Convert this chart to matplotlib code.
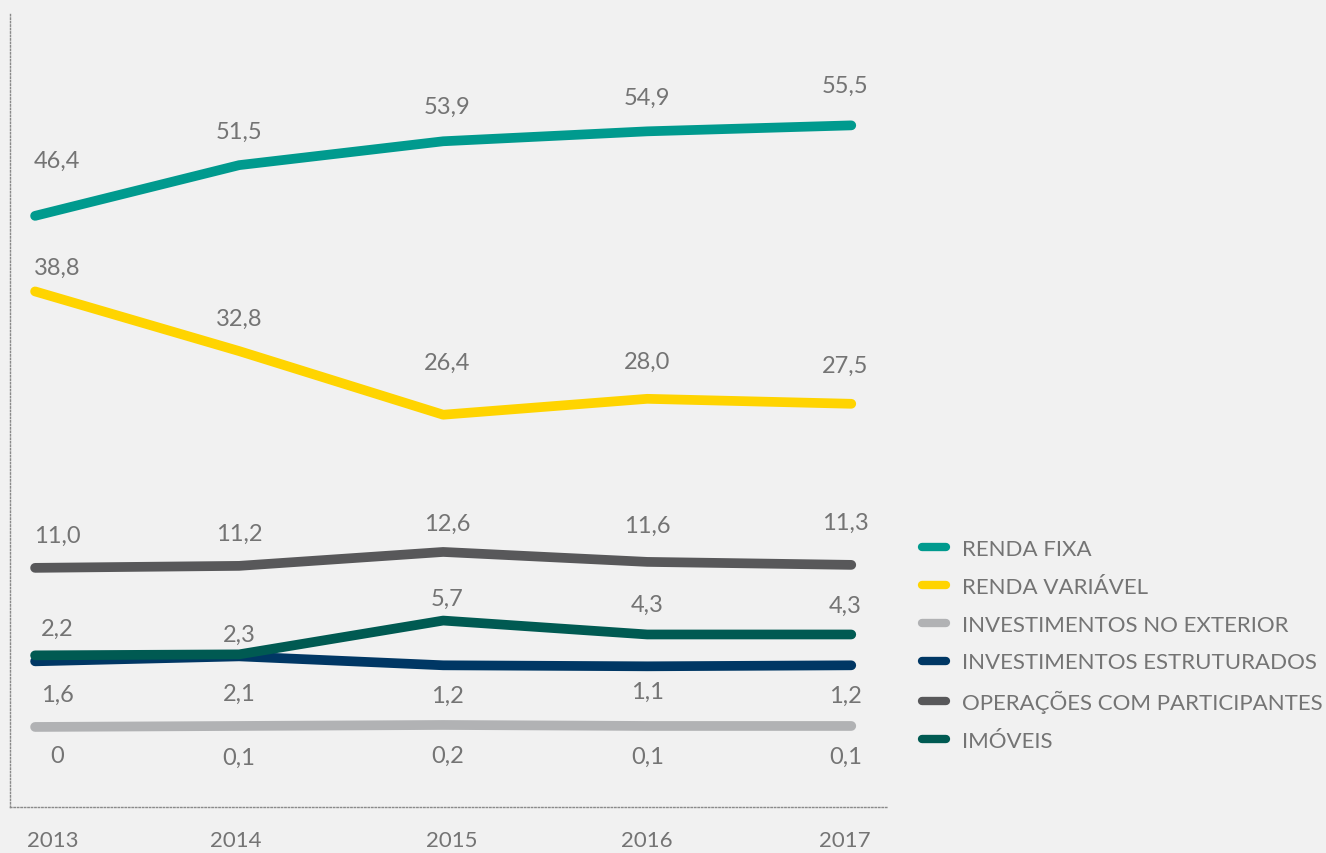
import numpy as np
import matplotlib
matplotlib.use("Agg")
import matplotlib.pyplot as plt
from matplotlib.lines import Line2D

# ---------------- data ----------------
years = [2013, 2014, 2015, 2016, 2017]
year_labels = ["2013", "2014", "2015", "2016", "2017"]

renda_fixa = [46.4, 51.5, 53.9, 54.9, 55.5]
renda_variavel = [38.8, 32.8, 26.4, 28.0, 27.5]
invest_exterior = [0.0, 0.1, 0.2, 0.1, 0.1]
invest_estruturados = [1.6, 2.1, 1.2, 1.1, 1.2]
operacoes_participantes = [11.0, 11.2, 12.6, 11.6, 11.3]
imoveis = [2.2, 2.3, 5.7, 4.3, 4.3]

series_names = ["RENDA FIXA", "RENDA VARIÁVEL", "INVESTIMENTOS NO EXTERIOR",
                "INVESTIMENTOS ESTRUTURADOS", "OPERAÇÕES COM PARTICIPANTES", "IMÓVEIS"]

# ---------------- style ----------------
BG = "#f1f1f1"
TXT = "#747474"
colors = {
    "RENDA FIXA": "#009a8e",
    "RENDA VARIÁVEL": "#ffd400",
    "INVESTIMENTOS NO EXTERIOR": "#b1b2b4",
    "INVESTIMENTOS ESTRUTURADOS": "#003764",
    "OPERAÇÕES COM PARTICIPANTES": "#58585a",
    "IMÓVEIS": "#005a52",
}
# label offsets in pixels (vertical) per point, hand placed like the original
label_dy = {
    "RENDA FIXA": [56, 34, 35, 34, 40],
    "RENDA VARIÁVEL": [24, 33, 52, 37, 38],
    "INVESTIMENTOS NO EXTERIOR": [-29, -31, -30, -30, -30],
    "INVESTIMENTOS ESTRUTURADOS": [-33, -37, -30, -25, -30],
    "OPERAÇÕES COM PARTICIPANTES": [33, 33, 29, 37, 43],
    "IMÓVEIS": [27, 20, 22, 30, 29],
}
label_dx = [22, 0, 4, 0, -6]
year_dx = [18, -3, 9, 0, -6]


def fmt(v):
    if v == 0:
        return "0"
    return f"{v:.1f}".replace(".", ",")


# the small values get a stretched band below 1 so the exterior line sits apart
def fwd(y):
    y = np.asarray(y, dtype=float)
    return np.where(y >= 1, y, np.where(y <= 0.5, y - 5, 1 - (1 - y) * 11))


def inv(z):
    z = np.asarray(z, dtype=float)
    return np.where(z >= 1, z, np.where(z <= -4.5, z + 5, 1 - (1 - z) / 11))


plt.rcParams["font.family"] = ["Lato", "DejaVu Sans"]

fig = plt.figure(figsize=(13.26, 8.54), dpi=100, facecolor=BG)
ax = fig.add_axes([10 / 1326, 1 - 808 / 854, 878 / 1326, 793 / 854])
ax.set_facecolor(BG)
ax.set_yscale("function", functions=(fwd, inv))
ax.set_xlim(2012.877, 2017.18)
ax.set_ylim(-8.05, 66.7)

data = {
    "RENDA FIXA": renda_fixa,
    "RENDA VARIÁVEL": renda_variavel,
    "INVESTIMENTOS NO EXTERIOR": invest_exterior,
    "INVESTIMENTOS ESTRUTURADOS": invest_estruturados,
    "OPERAÇÕES COM PARTICIPANTES": operacoes_participantes,
    "IMÓVEIS": imoveis,
}
draw_order = ["INVESTIMENTOS NO EXTERIOR", "INVESTIMENTOS ESTRUTURADOS", "IMÓVEIS",
              "OPERAÇÕES COM PARTICIPANTES", "RENDA VARIÁVEL", "RENDA FIXA"]

for name in draw_order:
    vals = data[name]
    ax.plot(years, vals, color=colors[name], lw=7, solid_capstyle="round",
            solid_joinstyle="round")
    for i, (x, v) in enumerate(zip(years, vals)):
        ax.annotate(fmt(v), (x, v), xytext=(label_dx[i], label_dy[name][i]),
                    textcoords="offset pixels", ha="center", va="center",
                    fontsize=17, color=TXT)

for i, (x, lab) in enumerate(zip(years, year_labels)):
    ax.annotate(lab, (x, 0), xycoords=("data", "axes fraction"),
                xytext=(year_dx[i], -33), textcoords="offset pixels",
                ha="center", va="center", fontsize=16, color=TXT)

ax.set_xticks([])
ax.set_yticks([])
ax.minorticks_off()
for s in ["top", "right"]:
    ax.spines[s].set_visible(False)
for s in ["left", "bottom"]:
    ax.spines[s].set_linestyle((0, (1, 1.5)))
    ax.spines[s].set_color("#8a8a8a")
    ax.spines[s].set_linewidth(1)

handles = [Line2D([0], [0], color=colors[n], lw=6, solid_capstyle="round")
           for n in series_names]
leg = fig.legend(handles, series_names, loc="upper left",
                 bbox_to_anchor=(922 / 1326, 1 - 540 / 854), frameon=False,
                 handlelength=1.1, handletextpad=0.7, labelspacing=0.8,
                 fontsize=16, labelcolor=TXT, borderpad=0, borderaxespad=0)

fig.savefig("out.png", dpi=100, facecolor=BG)
